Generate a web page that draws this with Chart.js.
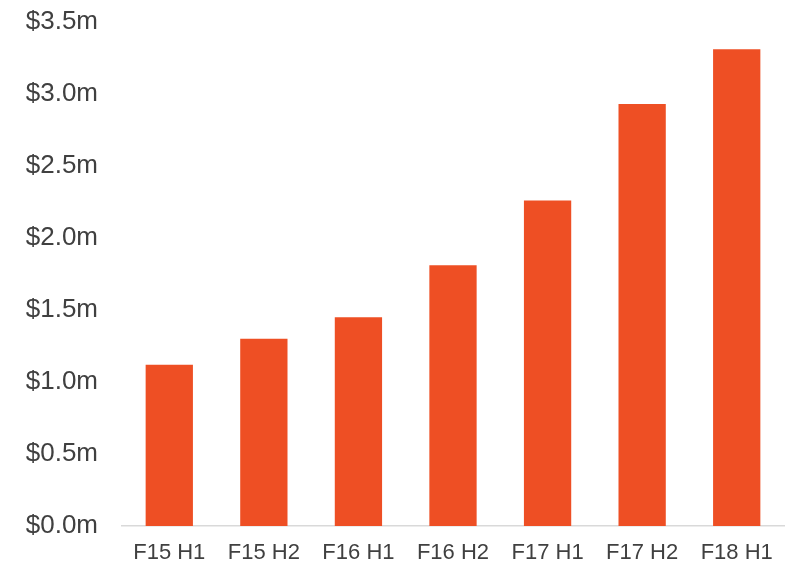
<!DOCTYPE html>
<html>
<head>
<meta charset="utf-8">
<script src="https://cdn.jsdelivr.net/npm/chart.js@4/dist/chart.umd.min.js"></script>
<style>
  html, body { margin: 0; padding: 0; background: #fff; }
  #wrap { width: 787px; height: 567px; position: relative; }
</style>
</head>
<body>
<div id="wrap"><canvas id="myChart"></canvas></div>
<script>
const barColor = "#EE4F24";
const textColor = "#404040";

const periods = ["F15 H1", "F15 H2", "F16 H1", "F16 H2", "F17 H1", "F17 H2", "F18 H1"];
const revenue = [1.12, 1.3, 1.45, 1.81, 2.26, 2.93, 3.31];
const yMin = 0;
const yMax = 3.5;
const yStep = 0.5;

const ctx = document.getElementById("myChart");

new Chart(ctx, {
  type: "bar",
  data: {
    labels: periods,
    datasets: [
      {
        label: "Revenue",
        data: revenue,
        backgroundColor: barColor,
        barPercentage: 0.5,
        categoryPercentage: 1.0,
      },
    ],
  },
  options: {
    responsive: true,
    maintainAspectRatio: false,
    animation: false,
    layout: {
      padding: { top: 22, right: 3, bottom: 3, left: 0 },
    },
    plugins: {
      legend: { display: false },
      tooltip: { enabled: false },
    },
    scales: {
      x: {
        grid: { display: false },
        border: { display: true, color: "#d9d9d9", width: 1.5 },
        ticks: {
          color: textColor,
          padding: 6,
          font: { family: "'Liberation Sans', Arial, sans-serif", size: 22 },
        },
        afterFit: (scale) => {
          scale.height = 38;
          scale.paddingLeft = 0;
          scale.paddingRight = 0;
        },
      },
      y: {
        min: yMin,
        max: yMax,
        grid: { display: false, drawTicks: false },
        border: { display: false },
        ticks: {
          stepSize: yStep,
          color: textColor,
          padding: 24,
          font: { family: "'Liberation Sans', Arial, sans-serif", size: 26 },
          callback: (v) => "$" + Number(v).toFixed(1) + "m",
        },
        afterFit: (scale) => {
          scale.width = 122;
          scale.paddingTop = 0;
          scale.paddingBottom = 0;
        },
      },
    },
  },
});
</script>
</body>
</html>
